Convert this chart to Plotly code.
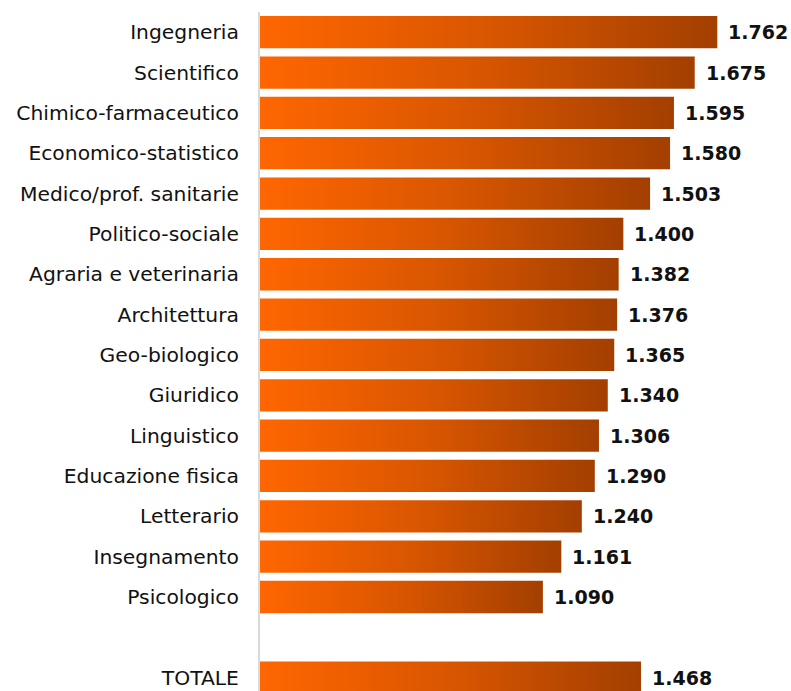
import plotly.graph_objects as go

categories = ["Ingegneria", "Scientifico", "Chimico-farmaceutico", "Economico-statistico",
              "Medico/prof. sanitarie", "Politico-sociale", "Agraria e veterinaria",
              "Architettura", "Geo-biologico", "Giuridico", "Linguistico",
              "Educazione fisica", "Letterario", "Insegnamento", "Psicologico", "TOTALE"]
values = [1762, 1675, 1595, 1580, 1503, 1400, 1382, 1376, 1365, 1340, 1306,
          1290, 1240, 1161, 1090, 1468]
# row slots (one empty slot before TOTALE)
positions = list(range(15)) + [16]

FONT = "DejaVu Sans"
half = 0.4

fig = go.Figure()
for cat, v, p in zip(categories, values, positions):
    fig.add_trace(go.Scatter(
        x=[0, v, v, 0, 0],
        y=[p - half, p - half, p + half, p + half, p - half],
        mode="lines", fill="toself",
        line=dict(width=0, color="rgba(0,0,0,0)"),
        fillgradient=dict(type="horizontal",
                          colorscale=[[0, "#FF6600"], [0.5, "#D95600"], [1, "#A33F00"]]),
        hoverinfo="skip", showlegend=False,
    ))

def fmt(v):
    return f"{v:,}".replace(",", ".")

for v, p in zip(values, positions):
    fig.add_annotation(x=v, y=p, text=fmt(v), showarrow=False,
                       xanchor="left", yanchor="middle", xshift=9,
                       font=dict(family=FONT, size=19, color="#111111", weight="bold"))

fig.update_layout(
    width=791, height=691,
    margin=dict(l=260, r=0, t=12, b=0),
    paper_bgcolor="white", plot_bgcolor="white",
    showlegend=False,
    xaxis=dict(range=[0, 2046], showgrid=False, zeroline=False,
               showticklabels=False, ticks="", showline=False, fixedrange=True),
    yaxis=dict(range=[16.33, -0.5], tickvals=positions, ticktext=categories,
               showgrid=False, zeroline=False, ticks="",
               showline=True, linecolor="#D9D9D9", linewidth=2,
               ticklabelstandoff=15, fixedrange=True,
               tickfont=dict(family=FONT, size=20.3, color="#111111")),
)

fig.write_html("out.html", config={"displayModeBar": False},
               post_script="document.body.style.margin='0';document.body.style.overflow='hidden';")
